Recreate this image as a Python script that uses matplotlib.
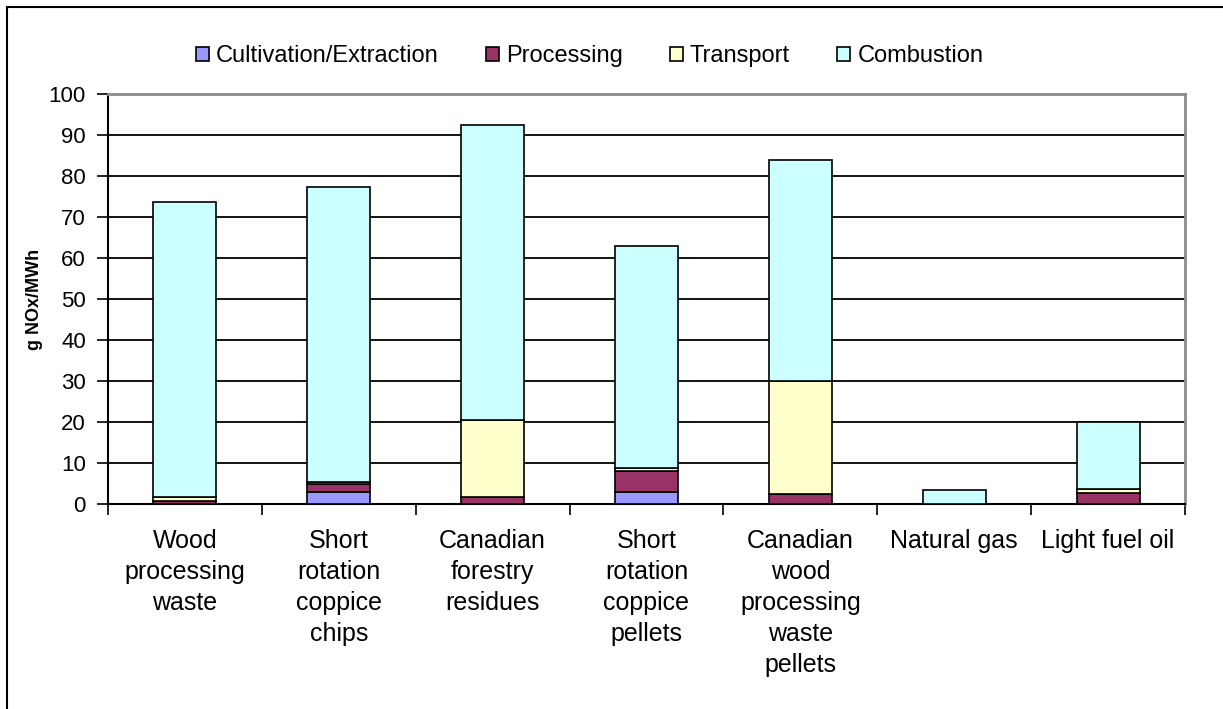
import numpy as np
import matplotlib.pyplot as plt
from matplotlib.patches import Rectangle

plt.rcParams['font.family'] = ['Liberation Sans', 'DejaVu Sans']

categories = [
    'Wood\nprocessing\nwaste',
    'Short\nrotation\ncoppice\nchips',
    'Canadian\nforestry\nresidues',
    'Short\nrotation\ncoppice\npellets',
    'Canadian\nwood\nprocessing\nwaste\npellets',
    'Natural gas',
    'Light fuel oil',
]
cultivation = [0.0, 3.0, 0.0, 3.0, 0.0, 0.0, 0.0]
processing = [0.7, 2.0, 1.7, 5.0, 2.5, 0.0, 2.8]
transport = [1.0, 0.4, 18.8, 0.8, 27.5, 0.0, 0.9]
combustion = [71.9, 71.8, 71.9, 54.2, 53.9, 3.4, 16.3]

series = [
    ('Cultivation/Extraction', cultivation, '#9999FF'),
    ('Processing', processing, '#993366'),
    ('Transport', transport, '#FFFFCC'),
    ('Combustion', combustion, '#CCFFFF'),
]

fig = plt.figure(figsize=(12.23, 7.09), dpi=100)
ax = fig.add_axes([108 / 1223, 1 - 504 / 709, 1077 / 1223, 410 / 709])

x = np.arange(len(categories))
bottom = np.zeros(len(categories))
for name, vals, color in series:
    vals = np.array(vals)
    ax.bar(x, vals, width=0.41, bottom=bottom, color=color,
           edgecolor='black', linewidth=1.2, label=name, zorder=3)
    bottom += vals

ax.set_xlim(-0.5, len(categories) - 0.5)
ax.set_ylim(0, 100)
ax.set_yticks(np.arange(0, 101, 10))
ax.yaxis.grid(True, color='black', linewidth=1.3, zorder=0)
ax.tick_params(axis='y', direction='out', length=8, width=1.2,
               labelsize=16, pad=8)

# category labels sit between boundary ticks
ax.set_xticks(np.arange(-0.5, len(categories), 1.0))
ax.set_xticklabels([])
ax.tick_params(axis='x', which='major', direction='out', length=8, width=1.2)
ax.set_xticks(x, minor=True)
ax.set_xticklabels(categories, minor=True, fontsize=18, linespacing=1.37,
                   va='top')
ax.tick_params(axis='x', which='minor', length=0, pad=18)

for side in ('left', 'bottom'):
    ax.spines[side].set_color('black')
    ax.spines[side].set_linewidth(1.5)
for side in ('top', 'right'):
    ax.spines[side].set_color('#8c8c8c')
    ax.spines[side].set_linewidth(2)

ax.set_ylabel('g NOx/MWh', fontsize=13, fontweight='bold', labelpad=4)

handles, labels = ax.get_legend_handles_labels()
fig.legend(handles, labels, loc='center', bbox_to_anchor=(0.482, 0.921),
           ncol=4, frameon=False, fontsize=17, handlelength=0.55,
           handleheight=0.55, handletextpad=0.3, columnspacing=2.0)

# outer chart frame
fig.patches.append(Rectangle((7 / 1223, -0.1), 1.2, 1 - 7 / 709 + 0.1,
                             transform=fig.transFigure, fill=False,
                             edgecolor='black', linewidth=1.5))

fig.savefig('out.png', dpi=100)
